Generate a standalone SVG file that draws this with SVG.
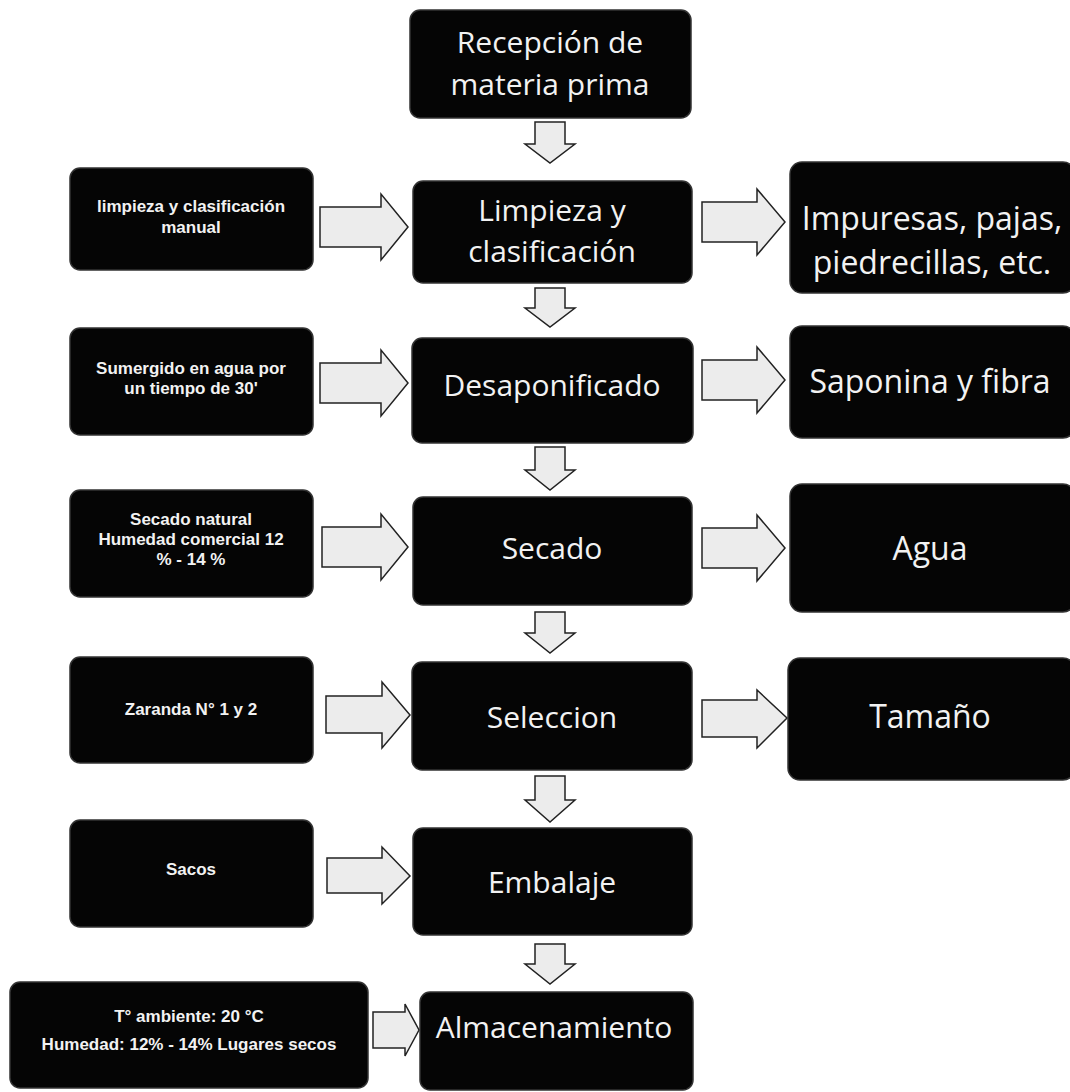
<svg xmlns="http://www.w3.org/2000/svg" width="1070" height="1092" viewBox="0 0 1070 1092">
<style>
.box{fill:#050505;stroke:#333;stroke-width:1.5}
.arr{fill:#ececec;stroke:#222;stroke-width:1.5;stroke-linejoin:miter}
.big{font-family:"Open Sans","Liberation Sans",sans-serif;font-size:30px;fill:#f2f2f2;text-anchor:middle}
.side{font-family:"Open Sans","Liberation Sans",sans-serif;font-size:32px;fill:#f2f2f2;text-anchor:middle}
.small{font-family:"Liberation Sans",sans-serif;font-size:17px;fill:#f2f2f2;text-anchor:middle;font-weight:bold}
</style>
<rect width="1070" height="1092" fill="#ffffff"/>
<g id="connectors">
<path class="arr" d="M535,122 H565 V144 H575 L550,163 L525,144 H535 Z"/>
<path class="arr" d="M535,288 H565 V308 H575 L550,327 L525,308 H535 Z"/>
<path class="arr" d="M535,447 H565 V470 H575 L550,490 L525,470 H535 Z"/>
<path class="arr" d="M535,612 H565 V633 H575 L550,653 L525,633 H535 Z"/>
<path class="arr" d="M535,776 H565 V800 H575 L550,822 L525,800 H535 Z"/>
<path class="arr" d="M535,944 H565 V964 H575 L550,984 L525,964 H535 Z"/>
<path class="arr" d="M320,207 H381 V194 L408,227 L381,260 V247 H320 Z"/>
<path class="arr" d="M702,202 H757 V189 L785,222 L757,255 V242 H702 Z"/>
<path class="arr" d="M320,363 H381 V350 L408,383 L381,416 V403 H320 Z"/>
<path class="arr" d="M702,360 H757 V347 L785,380 L757,413 V400 H702 Z"/>
<path class="arr" d="M322,527 H381 V514 L408,547 L381,580 V567 H322 Z"/>
<path class="arr" d="M702,528 H757 V515 L785,548 L757,581 V568 H702 Z"/>
<path class="arr" d="M326,696 H382 V682 L410,715 L382,748 V733 H326 Z"/>
<path class="arr" d="M702,700 H757 V690 L787,718 L757,748 V737 H702 Z"/>
<path class="arr" d="M327,858 H382 V847 L410,876 L382,904 V893 H327 Z"/>
<path class="arr" d="M373,1012 H405 V1004 L419,1030 L405,1056 V1048 H373 Z"/>
</g>
<g id="n-recepcion"><rect class="box" x="410" y="10" width="281" height="108" rx="10"/><text class="big" x="550" y="53">Recepción de</text><text class="big" x="550" y="95">materia prima</text></g>
<g id="n-limpieza"><rect class="box" x="413" y="181" width="279" height="102" rx="10"/><text class="big" x="552" y="221">Limpieza y</text><text class="big" x="552" y="262">clasificación</text></g>
<g id="n-limpieza-manual"><rect class="box" x="70" y="168" width="243" height="102" rx="10"/><text class="small" x="191" y="212">limpieza y clasificación</text><text class="small" x="191" y="233">manual</text></g>
<g id="n-impurezas"><rect class="box" x="790" y="162" width="285" height="131" rx="12"/><text class="side" x="932" y="230">Impuresas, pajas,</text><text class="side" x="932" y="274">piedrecillas, etc.</text></g>
<g id="n-desapon"><rect class="box" x="412" y="338" width="281" height="105" rx="10"/><text class="big" x="552" y="396">Desaponificado</text></g>
<g id="n-sumergido"><rect class="box" x="70" y="328" width="243" height="107" rx="10"/><text class="small" x="191" y="374">Sumergido en agua por</text><text class="small" x="191" y="394">un tiempo de 30'</text></g>
<g id="n-saponina"><rect class="box" x="790" y="326" width="285" height="112" rx="12"/><text class="side" x="930" y="393">Saponina y fibra</text></g>
<g id="n-secado"><rect class="box" x="413" y="497" width="279" height="108" rx="10"/><text class="big" x="552" y="559">Secado</text></g>
<g id="n-secado-natural"><rect class="box" x="70" y="490" width="243" height="107" rx="10"/><text class="small" x="191" y="525">Secado natural</text><text class="small" x="191" y="545">Humedad comercial 12</text><text class="small" x="191" y="565">% - 14 %</text></g>
<g id="n-agua"><rect class="box" x="790" y="484" width="285" height="128" rx="12"/><text class="side" x="930" y="560">Agua</text></g>
<g id="n-seleccion"><rect class="box" x="412" y="662" width="280" height="108" rx="10"/><text class="big" x="552" y="728">Seleccion</text></g>
<g id="n-zaranda"><rect class="box" x="70" y="657" width="243" height="106" rx="10"/><text class="small" x="191" y="715">Zaranda N° 1 y 2</text></g>
<g id="n-tamano"><rect class="box" x="788" y="658" width="287" height="122" rx="12"/><text class="side" x="930" y="728">Tamaño</text></g>
<g id="n-embalaje"><rect class="box" x="413" y="828" width="279" height="107" rx="10"/><text class="big" x="552" y="893">Embalaje</text></g>
<g id="n-sacos"><rect class="box" x="70" y="820" width="243" height="107" rx="10"/><text class="small" x="191" y="875">Sacos</text></g>
<g id="n-almacen"><rect class="box" x="420" y="992" width="273" height="98" rx="10"/><text class="big" x="554" y="1038">Almacenamiento</text></g>
<g id="n-ambiente"><rect class="box" x="10" y="982" width="358" height="106" rx="10"/><text class="small" x="189" y="1022">T° ambiente: 20 °C</text><text class="small" x="189" y="1050">Humedad: 12% - 14% Lugares secos</text></g>
</svg>
